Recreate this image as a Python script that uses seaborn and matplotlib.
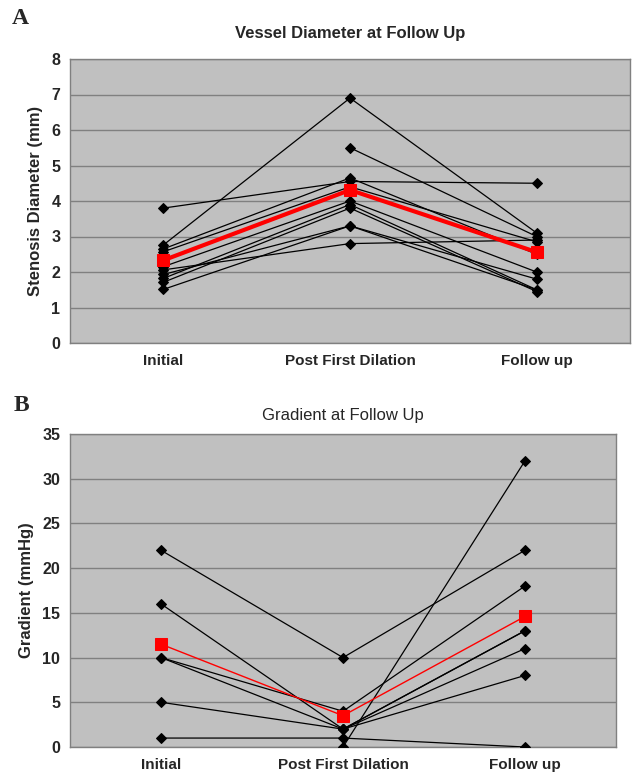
import numpy as np
import pandas as pd
import matplotlib
matplotlib.use("Agg")
import matplotlib.pyplot as plt
import seaborn as sns

sns.set_style("white")
plt.rcParams["font.family"] = ["Liberation Sans", "DejaVu Sans"]

stages = ["Initial", "Post First Dilation", "Follow up"]

# Panel A - stenosis diameter (mm), one entry per patient
diam_initial = [3.8, 2.76, np.nan, 2.65, 2.57, 2.15, 2.06, 1.93, 1.82, 1.71, 1.51]
diam_post = [4.55, 6.9, 5.5, 4.65, 4.4, 4.0, 2.8, 3.3, 3.9, 3.8, 3.3]
diam_follow = [4.5, 3.1, 3.0, 2.5, 2.85, 2.0, 2.9, 1.8, 1.5, 1.45, 1.5]
diam_mean = [2.33, 4.31, 2.56]

# Panel B - gradient (mmHg), one entry per patient
grad_initial = [22, 16, 10, 10, 5, 1, np.nan, np.nan]
grad_post = [10, 2, 4, 2, 2, 1, 0, 2]
grad_follow = [22, 13, 18, 13, 11, 0, 32, 8]
grad_mean = [11.5, 3.5, 14.6]


def long_frame(init, post, follow):
    rows = []
    for pid, vals in enumerate(zip(init, post, follow)):
        for pos, v in enumerate(vals):
            rows.append({"patient": pid, "stage": pos, "value": v})
    return pd.DataFrame(rows).dropna()


def draw_panel(ax, frame, means, mean_lw):
    sns.lineplot(data=frame, x="stage", y="value", units="patient", estimator=None,
                 color="black", lw=0.9, marker="D", markersize=5,
                 markeredgecolor="black", ax=ax, zorder=3)
    sns.lineplot(x=list(range(len(stages))), y=means, color="red", lw=mean_lw,
                 marker="s", markersize=9, markeredgecolor="red", ax=ax, zorder=5)


def style_axes(ax, ymax, ystep, title, ylabel, title_weight, title_pad):
    ax.set_facecolor("#c0c0c0")
    ax.set_xlim(-0.5, 2.5)
    ax.set_ylim(0, ymax)
    ax.set_yticks(np.arange(0, ymax + 1, ystep))
    ax.set_xticks(range(len(stages)))
    ax.set_xticklabels(stages, fontweight="bold", fontsize=11)
    ax.yaxis.grid(True, color="#808080", lw=1)
    ax.set_axisbelow(True)
    for s in ax.spines.values():
        s.set_color("#808080")
        s.set_linewidth(1)
    ax.tick_params(axis="x", length=0, pad=8)
    ax.tick_params(axis="y", length=4, color="#808080", pad=3, labelsize=11.5)
    for lab in ax.get_yticklabels():
        lab.set_fontweight("bold")
    ax.set_xlabel("")
    ax.set_ylabel(ylabel, fontsize=12, fontweight="bold", labelpad=6)
    ax.set_title(title, fontsize=12, fontweight=title_weight, pad=title_pad)


fig = plt.figure(figsize=(6.32, 7.74), dpi=100)
W, H = 632, 774

axA = fig.add_axes([70 / W, 1 - 343 / H, 560 / W, 284 / H])
draw_panel(axA, long_frame(diam_initial, diam_post, diam_follow), diam_mean, 3)
style_axes(axA, 8, 1, "Vessel Diameter at Follow Up", "Stenosis Diameter (mm)", "bold", 15)

axB = fig.add_axes([70 / W, 1 - 747 / H, 546 / W, 313 / H])
draw_panel(axB, long_frame(grad_initial, grad_post, grad_follow), grad_mean, 1)
style_axes(axB, 35, 5, "Gradient at Follow Up", "Gradient (mmHg)", "normal", 10)

fig.text(20 / W, 1 - 18 / H, "A", fontfamily="Liberation Serif", fontweight="bold",
         fontsize=17, ha="center", va="center")
fig.text(21 / W, 1 - 405 / H, "B", fontfamily="Liberation Serif", fontweight="bold",
         fontsize=17, ha="center", va="center")

fig.savefig("out.png", dpi=100)
